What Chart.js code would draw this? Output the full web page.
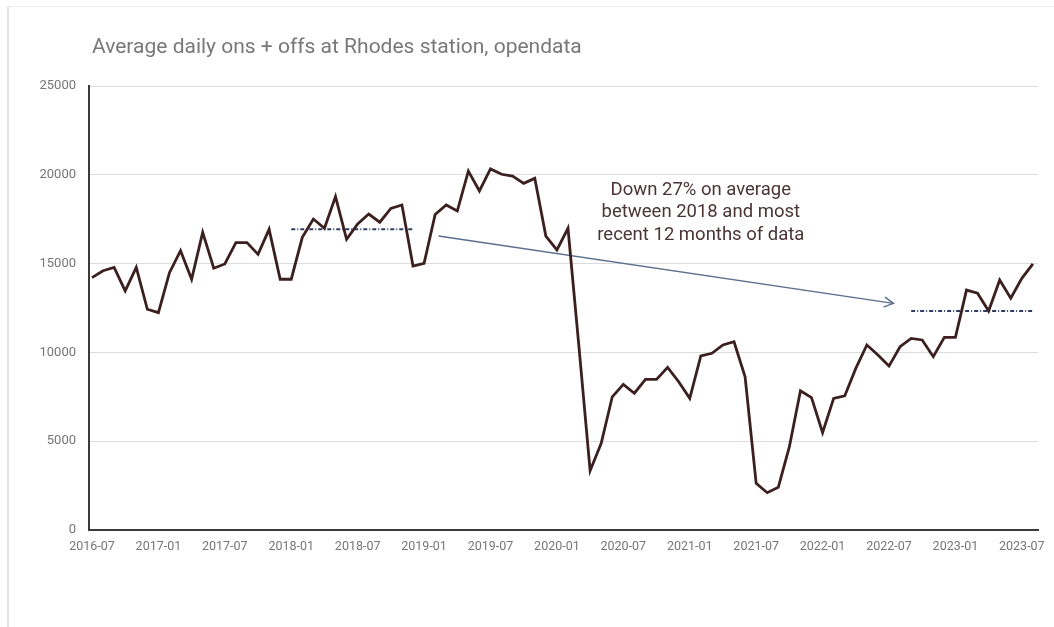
<!DOCTYPE html>
<html>
<head>
<meta charset="utf-8">
<script src="https://cdn.jsdelivr.net/npm/chart.js@4/dist/chart.umd.min.js"></script>
<style>
  html, body { margin: 0; padding: 0; background: #fff; }
  #wrap { position: relative; width: 1054px; height: 627px; overflow: hidden; }
  #frame { position: absolute; left: 7px; top: 6px; width: 1060px; height: 640px;
           border-left: 2px solid #e4e4e4; border-top: 1px solid #ececec; }
  canvas { position: absolute; left: 0; top: 0; }
</style>
</head>
<body>
<div id="wrap">
  <div id="frame"></div>
  <canvas id="c" width="1054" height="627"></canvas>
</div>
<script>
// Months (categories), 2016-07 .. 2023-08
const months = [
  '2016-07','2016-08','2016-09','2016-10','2016-11','2016-12',
  '2017-01','2017-02','2017-03','2017-04','2017-05','2017-06',
  '2017-07','2017-08','2017-09','2017-10','2017-11','2017-12',
  '2018-01','2018-02','2018-03','2018-04','2018-05','2018-06',
  '2018-07','2018-08','2018-09','2018-10','2018-11','2018-12',
  '2019-01','2019-02','2019-03','2019-04','2019-05','2019-06',
  '2019-07','2019-08','2019-09','2019-10','2019-11','2019-12',
  '2020-01','2020-02','2020-03','2020-04','2020-05','2020-06',
  '2020-07','2020-08','2020-09','2020-10','2020-11','2020-12',
  '2021-01','2021-02','2021-03','2021-04','2021-05','2021-06',
  '2021-07','2021-08','2021-09','2021-10','2021-11','2021-12',
  '2022-01','2022-02','2022-03','2022-04','2022-05','2022-06',
  '2022-07','2022-08','2022-09','2022-10','2022-11','2022-12',
  '2023-01','2023-02','2023-03','2023-04','2023-05','2023-06',
  '2023-07','2023-08'
];

// Average daily ons + offs
const dailyOnsOffs = [
  14210, 14600, 14790, 13460, 14790, 12430,
  12240, 14490, 15730, 14120, 16760, 14740,
  14980, 16180, 16180, 15520, 16930, 14120,
  14120, 16480, 17510, 16990, 18770, 16370,
  17230, 17790, 17330, 18110, 18300, 14860,
  15020, 17770, 18300, 17960, 20210, 19090,
  20330, 20030, 19930, 19520, 19800, 16550,
  15770, 16990, 10250, 3340, 4880, 7500,
  8200, 7700, 8480, 8480, 9160, 8350,
  7410, 9800, 9950, 10420, 10600, 8630,
  2630, 2100, 2400, 4690, 7840, 7450,
  5480, 7410, 7550, 9100, 10420, 9850,
  9230, 10320, 10790, 10700, 9760, 10850,
  10850, 13510, 13330, 12330, 14080, 13050,
  14170, 14980
];

// Average reference lines (month index range and value)
const avg2018Range = [18, 29];
const avg2018Value = 16930;
const avgRecentRange = [74, 85];
const avgRecentValue = 12330;

// Annotation arrow (month index, value)
const arrowFrom = [31.3, 16550];
const arrowTo = [72.4, 12760];

// Tick labels
const xTickLabels = ['2016-07','2017-01','2017-07','2018-01','2018-07','2019-01','2019-07',
  '2020-01','2020-07','2021-01','2021-07','2022-01','2022-07','2023-01','2023-07'];
const yTicks = [0, 5000, 10000, 15000, 20000, 25000];

const titleText = 'Average daily ons + offs at Rhodes station, opendata';
const noteLines = ['Down 27% on average', 'between 2018 and most', 'recent 12 months of data'];
const noteAnchor = [55.0, 19150];

const mainPoints = dailyOnsOffs.map((v, i) => ({ x: i, y: v }));
const avgPts = (r, v) => [{ x: r[0], y: v }, { x: r[1], y: v }];

const overlayPlugin = {
  id: 'overlay',
  afterDatasetsDraw(chart) {
    const { ctx, scales: { x, y } } = chart;
    // arrowhead
    const x1 = x.getPixelForValue(arrowFrom[0]), y1 = y.getPixelForValue(arrowFrom[1]);
    const x2 = x.getPixelForValue(arrowTo[0]), y2 = y.getPixelForValue(arrowTo[1]);
    const ang = Math.atan2(y2 - y1, x2 - x1);
    const len = 10, spread = 0.5;
    ctx.save();
    ctx.strokeStyle = '#5b6f8e';
    ctx.lineWidth = 1.5;
    ctx.lineCap = 'round';
    ctx.beginPath();
    ctx.moveTo(x2 - len * Math.cos(ang - spread), y2 - len * Math.sin(ang - spread));
    ctx.lineTo(x2, y2);
    ctx.lineTo(x2 - len * Math.cos(ang + spread), y2 - len * Math.sin(ang + spread));
    ctx.stroke();
    // note text
    ctx.fillStyle = '#4a3434';
    ctx.font = '18.5px Roboto, "Open Sans", sans-serif';
    ctx.textAlign = 'center';
    ctx.textBaseline = 'middle';
    const nx = x.getPixelForValue(noteAnchor[0]);
    const ny = y.getPixelForValue(noteAnchor[1]);
    noteLines.forEach((t, i) => ctx.fillText(t, nx, ny + i * 22.5));
    // title
    ctx.fillStyle = '#787878';
    ctx.font = '21px Roboto, "Open Sans", sans-serif';
    ctx.textAlign = 'left';
    ctx.fillText(titleText, 92, 48);
    ctx.restore();
  }
};

new Chart(document.getElementById('c'), {
  type: 'line',
  data: {
    datasets: [
      {
        data: mainPoints,
        borderColor: '#3c1f1f',
        borderWidth: 2.8,
        pointRadius: 0,
        tension: 0,
        order: 1
      },
      {
        data: avgPts(avg2018Range, avg2018Value),
        borderColor: '#2e3d66',
        borderWidth: 2,
        borderDash: [4, 2, 1, 2],
        pointRadius: 0,
        order: 2
      },
      {
        data: avgPts(avgRecentRange, avgRecentValue),
        borderColor: '#2e3d66',
        borderWidth: 2,
        borderDash: [4, 2, 1, 2],
        pointRadius: 0,
        order: 2
      },
      {
        data: [{ x: arrowFrom[0], y: arrowFrom[1] }, { x: arrowTo[0], y: arrowTo[1] }],
        borderColor: '#5b6f8e',
        borderWidth: 1.5,
        pointRadius: 0,
        order: 3
      }
    ]
  },
  options: {
    responsive: false,
    animation: false,
    events: [],
    layout: { padding: { left: 0, right: 16, top: 86, bottom: 57 } },
    plugins: { legend: { display: false }, title: { display: false }, tooltip: { enabled: false } },
    scales: {
      x: {
        type: 'linear',
        min: -0.27,
        max: 85.46,
        grid: { display: false, drawTicks: false },
        border: { display: true, color: '#3a3a3a', width: 2 },
        afterBuildTicks: (s) => { s.ticks = xTickLabels.map((_, i) => ({ value: i * 6 })); },
        afterFit: (s) => { s.height = 40; },
        ticks: {
          autoSkip: false,
          maxRotation: 0,
          padding: 9,
          color: '#767676',
          font: { family: 'Roboto, "Open Sans", sans-serif', size: 12.5 },
          callback: (v) => xTickLabels[Math.round(v / 6)]
        }
      },
      y: {
        min: 0,
        max: 25000,
        grid: { color: '#dcdcdc', lineWidth: 1, drawTicks: false },
        border: { display: true, color: '#3a3a3a', width: 2 },
        afterBuildTicks: (s) => { s.ticks = yTicks.map(v => ({ value: v })); },
        afterFit: (s) => { s.width = 89; },
        ticks: {
          padding: 13,
          color: '#767676',
          font: { family: 'Roboto, "Open Sans", sans-serif', size: 13 },
          callback: (v) => String(v)
        }
      }
    }
  },
  plugins: [overlayPlugin]
});
</script>
</body>
</html>
